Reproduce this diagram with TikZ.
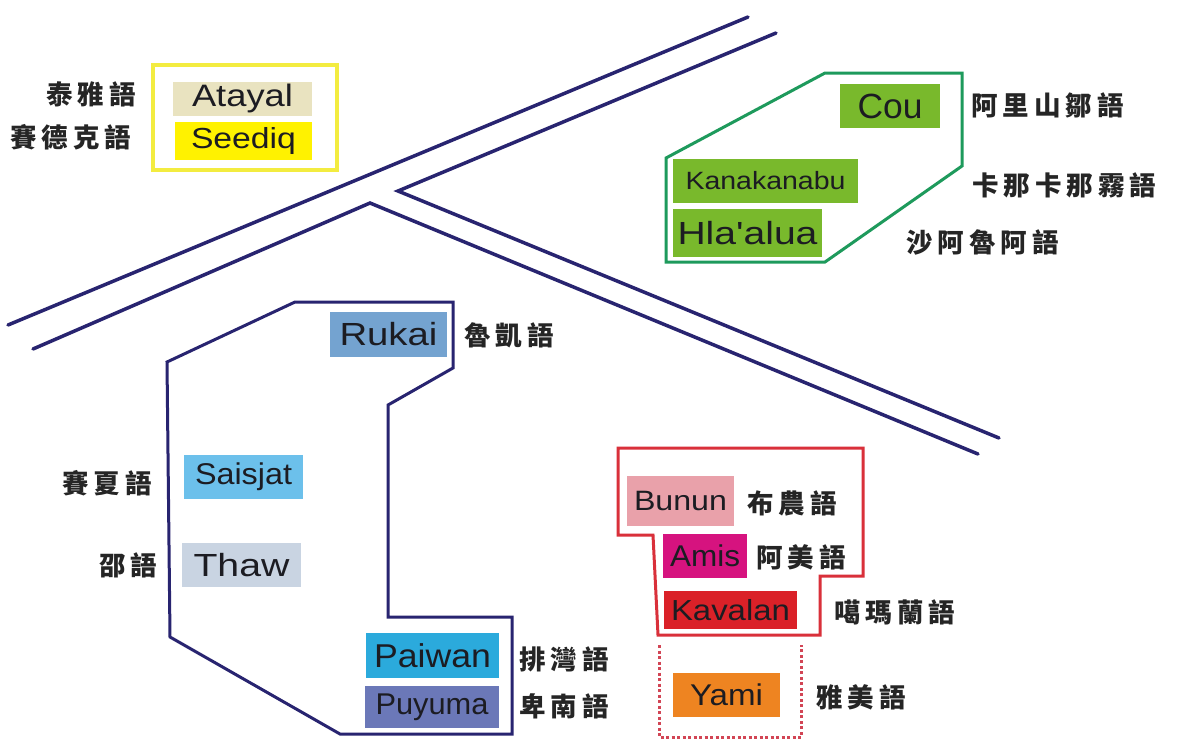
\documentclass[tikz,border=0pt]{standalone}
\usepackage{fontspec}
\usepackage{graphicx}
\setmainfont{Liberation Sans}
\newfontfamily\cjk{Noto Sans CJK TC}[UprightFont={* Black}]
\definecolor{navy}{HTML}{282470}
\definecolor{yelline}{HTML}{F3EC40}
\definecolor{grnline}{HTML}{1E9A5C}
\definecolor{redline}{HTML}{D9303A}
\definecolor{dotred}{HTML}{D24555}
\definecolor{txt}{HTML}{1C1C22}
\definecolor{zhc}{HTML}{252525}
\definecolor{cAtayal}{HTML}{E9E3C0}
\definecolor{cSeediq}{HTML}{FFF200}
\definecolor{cGreen}{HTML}{79B92C}
\definecolor{cRukai}{HTML}{74A3D0}
\definecolor{cSaisjat}{HTML}{6CC0EB}
\definecolor{cThaw}{HTML}{C9D4E2}
\definecolor{cPaiwan}{HTML}{2BAADC}
\definecolor{cPuyuma}{HTML}{6B78B8}
\definecolor{cBunun}{HTML}{E9A1AA}
\definecolor{cAmis}{HTML}{D6137F}
\definecolor{cKavalan}{HTML}{DA2128}
\definecolor{cYami}{HTML}{EE8421}
\newcommand\fitt[3]{\resizebox{#1pt}{\height}{\fontsize{#2pt}{#2pt}\selectfont #3}}
\newcommand\zk{\kern5pt}
\tikzset{
  road/.style={draw=navy, line width=3.5pt, line cap=round, line join=miter},
  grp/.style={line width=3pt, line join=miter},
  lang/.style={inner sep=0pt, text=txt, anchor=center},
  zh/.style={inner sep=0pt, anchor=west, text=zhc, font=\cjk\fontsize{26.5pt}{26.5pt}\selectfont},
}
\begin{document}
\begin{tikzpicture}[x=1pt,y=-1pt]
\useasboundingbox (0,0) rectangle (1178,740);
\fill[white] (0,0) rectangle (1178,740);
% roads
\draw[road] (8,325) -- (748,17);
\draw[road] (33,349) -- (370,203) -- (978,454);
\draw[road] (776,33) -- (398,191) -- (999,438);
% group outlines
\draw[grp, draw=yelline, line width=4pt] (153,65) rectangle (337,170);
\draw[grp, draw=grnline] (666,158) -- (825,73) -- (962,73) -- (962,166) -- (825,262) -- (666,262) -- cycle;
\draw[grp, draw=navy] (167,362) -- (295,302) -- (453,302) -- (453,368) -- (388,405) -- (388,617) -- (512,617) -- (512,734) -- (340,734) -- (170,637) -- cycle;
\draw[grp, draw=redline] (618,448) -- (863,448) -- (863,576) -- (820,576) -- (820,635) -- (658,635) -- (653,535) -- (618,535) -- cycle;
\draw[draw=dotred, line width=3pt, dash pattern=on 3pt off 2.5pt] (659,645) -- (659,737) -- (801,737) -- (801,645);
% language boxes
\node[lang, fill=cAtayal, minimum width=139pt, minimum height=34pt, text height=22pt] (atayal) at (242.5,99) {\fitt{101}{31}{Atayal}};
\node[lang, fill=cSeediq, minimum width=137pt, minimum height=38pt, text height=20.5pt] (seediq) at (243.5,141) {\fitt{105}{29}{Seediq}};
\node[lang, fill=cGreen, minimum width=100pt, minimum height=44pt, text height=25pt] (cou) at (890,106) {\fitt{65}{35}{Cou}};
\node[lang, fill=cGreen, minimum width=185pt, minimum height=44pt, text height=18pt] (kanakanabu) at (765.5,181) {\fitt{160}{25}{Kanakanabu}};
\node[lang, fill=cGreen, minimum width=149pt, minimum height=48pt, text height=23pt] (hlaalua) at (747.5,233) {\fitt{140}{32}{Hla\textquotesingle alua}};
\node[lang, fill=cRukai, minimum width=117pt, minimum height=45pt, text height=23pt] (rukai) at (388.5,334.5) {\fitt{98}{32}{Rukai}};
\node[lang, fill=cSaisjat, minimum width=119pt, minimum height=44pt, text height=21.5pt] (saisjat) at (243.5,477) {\fitt{97}{30}{Saisjat}};
\node[lang, fill=cThaw, minimum width=119pt, minimum height=44pt, text height=23pt] (thaw) at (241.5,565) {\fitt{96}{32}{Thaw}};
\node[lang, fill=cPaiwan, minimum width=133pt, minimum height=45pt, text height=23.5pt] (paiwan) at (432.5,655.5) {\fitt{117}{33}{Paiwan}};
\node[lang, fill=cPuyuma, minimum width=134pt, minimum height=42pt, text height=21.5pt] (puyuma) at (432,707) {\fitt{113}{30}{Puyuma}};
\node[lang, fill=cBunun, minimum width=107pt, minimum height=50pt, text height=20pt] (bunun) at (680.5,501) {\fitt{93}{28}{Bunun}};
\node[lang, fill=cAmis, minimum width=84pt, minimum height=44pt, text height=21.5pt] (amis) at (705,556) {\fitt{70}{30}{Amis}};
\node[lang, fill=cKavalan, minimum width=133pt, minimum height=38pt, text height=21pt] (kavalan) at (730.5,610) {\fitt{119}{29}{Kavalan}};
\node[lang, fill=cYami, minimum width=107pt, minimum height=44pt, text height=21.5pt] (yami) at (726.5,695) {\fitt{73}{30}{Yami}};
% Chinese labels
\node[zh] (zatayal) at (46,94) {泰\zk 雅\zk 語};
\node[zh] (zseediq) at (10,137) {賽\zk 德\zk 克\zk 語};
\node[zh] (zcou) at (971,105) {阿\zk 里\zk 山\zk 鄒\zk 語};
\node[zh] (zkana) at (972,185) {卡\zk 那\zk 卡\zk 那\zk 霧\zk 語};
\node[zh] (zhla) at (906,242) {沙\zk 阿\zk 魯\zk 阿\zk 語};
\node[zh] (zrukai) at (464,335) {魯\zk 凱\zk 語};
\node[zh] (zsaisjat) at (62,483) {賽\zk 夏\zk 語};
\node[zh] (zthaw) at (99,565) {邵\zk 語};
\node[zh] (zpaiwan) at (519,659) {排\zk 灣\zk 語};
\node[zh] (zpuyuma) at (519,706) {卑\zk 南\zk 語};
\node[zh] (zbunun) at (747,503) {布\zk 農\zk 語};
\node[zh] (zamis) at (756,557) {阿\zk 美\zk 語};
\node[zh] (zkavalan) at (834,612) {噶\zk 瑪\zk 蘭\zk 語};
\node[zh] (zyami) at (816,697) {雅\zk 美\zk 語};
\end{tikzpicture}
\end{document}
